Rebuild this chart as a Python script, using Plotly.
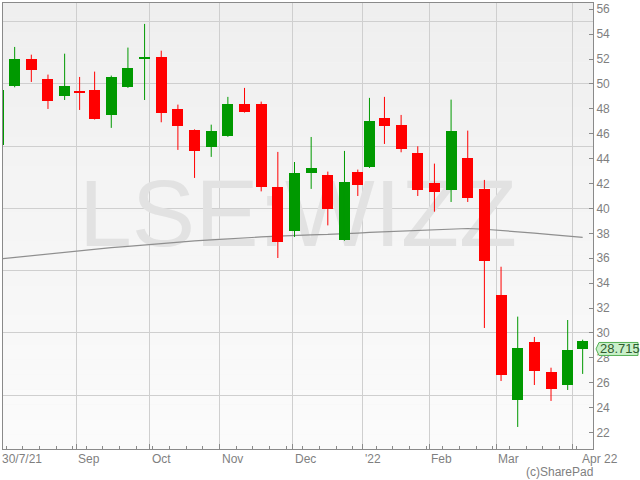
import numpy as np
import plotly.graph_objects as go

# ---------------- data ----------------
week_starts = ["2021-07-26", "2021-08-02", "2021-08-09", "2021-08-16", "2021-08-23",
               "2021-08-30", "2021-09-06", "2021-09-13", "2021-09-20", "2021-09-27",
               "2021-10-04", "2021-10-11", "2021-10-18", "2021-10-25", "2021-11-01",
               "2021-11-08", "2021-11-15", "2021-11-22", "2021-11-29", "2021-12-06",
               "2021-12-13", "2021-12-20", "2021-12-27", "2022-01-03", "2022-01-10",
               "2022-01-17", "2022-01-24", "2022-01-31", "2022-02-07", "2022-02-14",
               "2022-02-21", "2022-02-28", "2022-03-07", "2022-03-14", "2022-03-21",
               "2022-03-28", "2022-04-04"]
opens = [45.12, 49.81, 52.03, 50.43, 49.00, 49.46, 49.53, 47.48, 49.78, 51.98,
         52.19, 48.02, 46.33, 44.91, 45.79, 48.42, 48.42, 41.75, 38.16, 42.88,
         42.71, 37.49, 42.96, 43.30, 47.29, 46.73, 44.48, 42.07, 41.45, 44.08,
         41.59, 33.08, 24.59, 29.30, 26.89, 25.79, 29.38]
highs = [49.80, 52.97, 52.35, 50.75, 52.43, 50.56, 50.99, 50.67, 52.92, 54.82,
         52.67, 48.34, 46.35, 46.73, 48.96, 49.68, 48.58, 44.54, 43.73, 45.74,
         42.96, 44.62, 43.12, 48.88, 48.96, 47.51, 44.99, 43.60, 48.74, 46.25,
         42.29, 35.32, 31.31, 29.68, 27.21, 31.04, 29.46]
lows = [44.90, 49.73, 50.16, 47.99, 48.71, 47.91, 47.14, 46.47, 49.68, 48.71,
        46.92, 44.70, 42.45, 44.14, 45.75, 47.70, 41.37, 36.02, 37.71, 41.57,
        38.64, 37.41, 41.00, 43.25, 45.18, 44.51, 41.00, 39.74, 40.52, 40.52,
        30.40, 26.14, 22.45, 25.82, 24.54, 25.42, 26.71]
closes = [49.53, 52.03, 51.09, 48.60, 49.86, 49.33, 47.16, 50.59, 51.31, 52.19,
          47.64, 46.60, 44.59, 46.25, 48.42, 47.72, 41.70, 37.28, 42.88, 43.28,
          39.98, 42.15, 41.86, 47.05, 46.60, 44.75, 41.45, 41.29, 46.25, 40.81,
          35.75, 26.65, 28.82, 26.92, 25.47, 28.66, 28.715]
ma_values = [35.93, 36.07, 36.21, 36.36, 36.50, 36.62, 36.73, 36.85, 36.96, 37.08,
             37.19, 37.31, 37.40, 37.47, 37.56, 37.63, 37.71, 37.77, 37.84, 37.88,
             37.91, 37.95, 38.02, 38.08, 38.13, 38.18, 38.23, 38.29, 38.35, 38.39,
             38.33, 38.24, 38.15, 38.02, 37.89, 37.77, 37.68]

holidays = ["2021-08-30", "2021-12-27", "2021-12-28", "2022-01-03"]
axis_start = "2021-07-30"
data_end = "2022-04-08"      # exclusive
axis_end = "2022-04-11"
month_dates = ["2021-09-01", "2021-10-01", "2021-11-01", "2021-12-01",
               "2022-01-04", "2022-02-01", "2022-03-01", "2022-04-01"]
month_labels = ["Sep", "Oct", "Nov", "Dec", "'22", "Feb", "Mar", "Apr 22"]
first_label = "30/7/21"
watermark = "LSE:WIZZ"
credit = "(c)SharePad"

# ---------------- styling ----------------
FONT = "Liberation Sans, Arial, sans-serif"
GREEN = "#009900"
RED = "#ff0000"
GRID = "#cfcfcf"
AXIS = "#8a8a8a"
LABEL = "#7f7f7f"
Y_RANGE = [20.68, 56.5]
WATERMARK_Y = 38.9


def tidx(d):
    return float(np.busday_count(axis_start, d, holidays=holidays))


# trading-day positions of the weekly candles (centre of the trading days in each week)
centers = []
for ws in week_starts:
    d0 = np.datetime64(ws)
    d1 = min(d0 + np.timedelta64(7, "D"), np.datetime64(data_end))
    n = np.busday_count(d0, d1, holidays=holidays)
    centers.append(tidx(ws) + n / 2.0)

# SharePad colours a candle by the change versus the previous close
colors = []
for i, c in enumerate(closes):
    ref = closes[i - 1] if i > 0 else opens[i]
    colors.append(GREEN if c >= ref else RED)

x_end = tidx(axis_end) + 0.1
mondays = [tidx(str(d)) for d in np.arange(np.datetime64("2021-08-02"),
                                             np.datetime64("2022-04-05"),
                                             np.timedelta64(7, "D"))]
month_pos = [tidx(d) for d in month_dates]

fig = go.Figure()

# watermark (behind candles)
fig.add_trace(go.Scatter(
    x=[x_end / 2.0], y=[WATERMARK_Y], text=[watermark], mode="text",
    textfont=dict(size=95, color="#e2e2e2", family=FONT),
    hoverinfo="skip", showlegend=False, xaxis="x", yaxis="y", cliponaxis=False))

# moving average
fig.add_trace(go.Scatter(
    x=centers, y=ma_values, mode="lines",
    line=dict(color="#8f8f8f", width=1.2),
    hoverinfo="skip", showlegend=False, xaxis="x", yaxis="y"))

# candle bodies
fig.add_trace(go.Bar(
    x=centers,
    y=[abs(c - o) for o, c in zip(opens, closes)],
    base=[min(o, c) for o, c in zip(opens, closes)],
    width=3.3, marker=dict(color=colors, line=dict(width=0)),
    hoverinfo="skip", showlegend=False, xaxis="x", yaxis="y2"))

# wicks
for col in (GREEN, RED):
    wx, wy = [], []
    for xc, lo, hi, cc in zip(centers, lows, highs, colors):
        if cc == col:
            wx += [xc, xc, None]
            wy += [lo, hi, None]
    fig.add_trace(go.Scatter(
        x=wx, y=wy, mode="lines", line=dict(color=col, width=1),
        hoverinfo="skip", showlegend=False, xaxis="x", yaxis="y2"))

# background gradient
shapes = []
nb = 30
for k in range(nb):
    v = int(round(239 + (251 - 239) * k / (nb - 1)))
    shapes.append(dict(type="rect", xref="paper", yref="paper",
                       x0=0, x1=1, y1=1 - k / nb, y0=1 - (k + 1) / nb,
                       fillcolor=f"rgb({v},{v},{v})", line=dict(width=0),
                       layer="below"))

# last price tag
shapes.append(dict(type="path", xref="paper", yref="y2",
                   xsizemode="pixel", ysizemode="pixel",
                   xanchor=1, yanchor=closes[-1],
                   path="M 3,0 L 6,6.5 L 45,6.5 L 45,-6.5 L 6,-6.5 Z",
                   fillcolor="#c9f0c9", line=dict(color="#55b055", width=1),
                   layer="above"))

annotations = []
annotations.append(dict(x=0, xref="x", y=0, yref="paper", text=first_label,
                        xanchor="left", yanchor="top", xshift=-3, yshift=-1,
                        showarrow=False, font=dict(size=12, color=LABEL, family=FONT)))
for pos, lab in zip(month_pos, month_labels):
    annotations.append(dict(x=pos, xref="x", y=0, yref="paper", text=lab,
                            xanchor="left", yanchor="top",
                            xshift=7 if lab == "Apr 22" else 0, yshift=-1,
                            showarrow=False, font=dict(size=12, color=LABEL, family=FONT)))
annotations.append(dict(x=1, xref="paper", y=0, yref="paper", text=credit,
                        xanchor="right", yanchor="top", yshift=-14, xshift=2,
                        showarrow=False, font=dict(size=12, color=LABEL, family=FONT)))
annotations.append(dict(x=1, xref="paper", y=closes[-1], yref="y2",
                        text=f"{closes[-1]:.3f}",
                        xanchor="left", yanchor="middle", xshift=5,
                        showarrow=False, font=dict(size=13, color="#2f5a2f", family=FONT)))

fig.update_layout(
    width=640, height=480,
    margin=dict(l=3, r=47, t=3, b=31, autoexpand=False),
    paper_bgcolor="white", plot_bgcolor="#f4f4f4",
    showlegend=False, font=dict(family=FONT, color=LABEL, size=12),
    shapes=shapes, annotations=annotations, bargap=0,
    xaxis=dict(range=[0, x_end], tickmode="array", tickvals=month_pos,
               showticklabels=False, ticks="inside", ticklen=5, tickcolor=AXIS,
               showgrid=True, gridcolor=GRID, gridwidth=1, zeroline=False,
               showline=True, linecolor=AXIS, linewidth=1, mirror=True,
               minor=dict(tickmode="array", tickvals=mondays, ticks="inside",
                          ticklen=3, tickcolor=AXIS, showgrid=False)),
    yaxis=dict(range=Y_RANGE, tickmode="linear", tick0=0, dtick=5,
               showticklabels=False, ticks="", showgrid=True, gridcolor=GRID,
               gridwidth=1, zeroline=False, showline=True, linecolor=AXIS,
               linewidth=1),
    yaxis2=dict(range=Y_RANGE, overlaying="y", side="right", tickmode="linear",
                tick0=0, dtick=2, ticks="inside", ticklen=4, tickcolor=AXIS,
                tickfont=dict(size=12, color=LABEL, family=FONT), showgrid=False,
                zeroline=False, showline=True, linecolor=AXIS, linewidth=1),
)

fig.write_html(
    "out.html",
    config={"displayModeBar": False},
    post_script="document.body.style.margin='0';document.body.style.overflow='hidden';",
)
